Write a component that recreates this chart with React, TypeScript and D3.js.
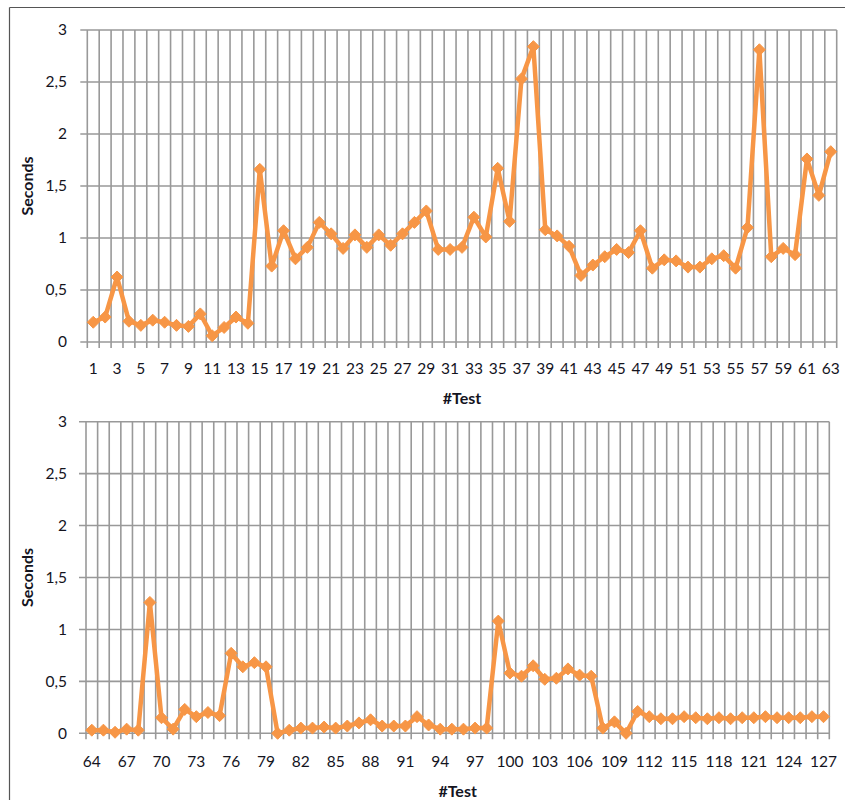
import React from "react";
import * as d3 from "d3";

const topTests: number[] = d3.range(1, 64);
const topValues: number[] = [
  0.19, 0.24, 0.625, 0.2, 0.16, 0.21, 0.19, 0.16, 0.15, 0.27,
  0.06, 0.14, 0.24, 0.18, 1.66, 0.73, 1.07, 0.8, 0.91, 1.15,
  1.04, 0.9, 1.03, 0.91, 1.03, 0.93, 1.04, 1.15, 1.26, 0.89,
  0.89, 0.91, 1.2, 1.01, 1.67, 1.16, 2.53, 2.84, 1.08, 1.02,
  0.92, 0.64, 0.74, 0.82, 0.89, 0.86, 1.07, 0.71, 0.79, 0.78,
  0.72, 0.72, 0.8, 0.83, 0.71, 1.1, 2.81, 0.82, 0.9, 0.84,
  1.76, 1.41, 1.83,
];

const bottomTests: number[] = d3.range(64, 128);
const bottomValues: number[] = [
  0.03, 0.03, 0.01, 0.04, 0.03, 1.26, 0.15, 0.04, 0.23, 0.16,
  0.2, 0.17, 0.77, 0.64, 0.68, 0.64, 0.0, 0.03, 0.05, 0.05,
  0.06, 0.05, 0.07, 0.1, 0.13, 0.07, 0.07, 0.07, 0.16, 0.08,
  0.04, 0.04, 0.04, 0.05, 0.05, 1.08, 0.58, 0.55, 0.65, 0.52,
  0.53, 0.62, 0.56, 0.55, 0.05, 0.11, 0.0, 0.21, 0.16, 0.14,
  0.14, 0.16, 0.15, 0.14, 0.15, 0.14, 0.15, 0.15, 0.16, 0.15,
  0.15, 0.15, 0.16, 0.16,
];

const yTicks: number[] = [0, 0.5, 1, 1.5, 2, 2.5, 3];
const topLabelEvery = 2;
const bottomLabelEvery = 3;

const FONT = "Lato, 'Open Sans', sans-serif";
const ORANGE = "#F79646";
const GRID = "#999999";
const TEXT = "#14141e";

type PanelProps = {
  tests: number[];
  values: number[];
  left: number;
  right: number;
  top: number;
  bottom: number;
  labelEvery: number;
  labelY: number;
  titleY: number;
};

function Panel({ tests, values, left, right, top, bottom, labelEvery, labelY, titleY }: PanelProps) {
  const x = d3.scaleBand<number>().domain(tests).range([left, right]).padding(0);
  const y = d3.scaleLinear().domain([0, 3]).range([bottom, top]);
  const step = x.step();
  const bounds = d3.range(tests.length + 1).map((k) => left + k * step);
  const cx = (t: number) => (x(t) as number) + step / 2;
  const line = d3
    .line<number>()
    .x((_, i) => cx(tests[i]))
    .y((v) => y(v));
  const fmt = (v: number) => String(v).replace(".", ",");
  const ds = 6;
  return (
    <g>
      {yTicks.map((t) => (
        <line key={"h" + t} x1={left - 7} x2={right} y1={y(t)} y2={y(t)} stroke={GRID} strokeWidth={1.6} />
      ))}
      {bounds.map((bx, k) => (
        <line key={"v" + k} x1={bx} x2={bx} y1={top} y2={bottom + 6} stroke={GRID} strokeWidth={1.6} />
      ))}
      {yTicks.map((t) => (
        <text key={"yl" + t} x={67} y={y(t)} dy="0.35em" textAnchor="end" fontSize={15.5} fill={TEXT} fontFamily={FONT}>
          {fmt(t)}
        </text>
      ))}
      {tests.map((t, i) =>
        i % labelEvery === 0 ? (
          <text key={"xl" + t} x={cx(t)} y={labelY} textAnchor="middle" fontSize={15.5} fill={TEXT} fontFamily={FONT}>
            {t}
          </text>
        ) : null
      )}
      <text
        transform={`translate(33,${(top + bottom) / 2}) rotate(-90)`}
        textAnchor="middle"
        fontSize={16}
        fontWeight="bold"
        fill={TEXT}
        fontFamily={FONT}
      >
        Seconds
      </text>
      <text x={(left + right) / 2} y={titleY} textAnchor="middle" fontSize={16} fontWeight="bold" fill={TEXT} fontFamily={FONT}>
        #Test
      </text>
      <path d={line(values) || ""} fill="none" stroke={ORANGE} strokeWidth={4.5} strokeLinejoin="round" />
      {values.map((v, i) => {
        const px = cx(tests[i]);
        const py = y(v);
        return (
          <path
            key={"m" + i}
            d={`M${px},${py - ds}L${px + ds},${py}L${px},${py + ds}L${px - ds},${py}Z`}
            fill={ORANGE}
            stroke={ORANGE}
            strokeWidth={1}
          />
        );
      })}
    </g>
  );
}

export default function App() {
  return (
    <svg
      width={845}
      height={800}
      style={{ position: "absolute", left: 0, top: 0, background: "#fff" }}
    >
      <rect x={0} y={0} width={845} height={800} fill="#fff" />
      <line x1={9.5} x2={9.5} y1={7.5} y2={800} stroke="#555" strokeWidth={1.2} />
      <line x1={9.5} x2={845} y1={7.5} y2={7.5} stroke="#555" strokeWidth={1.2} />
      <Panel
        tests={topTests}
        values={topValues}
        left={87.3}
        right={836.7}
        top={30}
        bottom={342}
        labelEvery={topLabelEvery}
        labelY={374}
        titleY={404}
      />
      <Panel
        tests={bottomTests}
        values={bottomValues}
        left={86}
        right={829.3}
        top={421.7}
        bottom={733.3}
        labelEvery={bottomLabelEvery}
        labelY={767}
        titleY={797}
      />
    </svg>
  );
}
